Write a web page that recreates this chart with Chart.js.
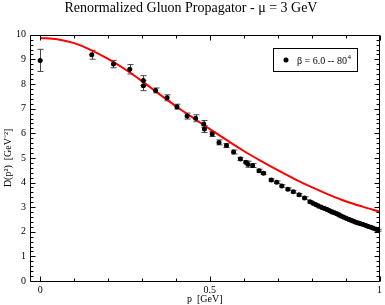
<!DOCTYPE html>
<html>
<head>
<meta charset="utf-8">
<script src="https://cdn.jsdelivr.net/npm/chart.js@4"></script>
<style>
  html, body { margin: 0; padding: 0; background: #fff; }
</style>
</head>
<body>
<canvas id="propChart" width="385" height="305"></canvas>
<script>
// lattice points, beta = 6.0, 80^4
const momenta = [0, 0.152, 0.216, 0.264, 0.304, 0.304, 0.340, 0.374, 0.403, 0.433, 0.458,
  0.482, 0.484, 0.507, 0.527, 0.549, 0.570, 0.590, 0.606, 0.612, 0.626,
  0.645, 0.658, 0.681, 0.697, 0.712, 0.730, 0.746, 0.763, 0.779, 0.795,
  0.805, 0.813, 0.821, 0.830, 0.838, 0.845, 0.853, 0.860, 0.867, 0.874,
  0.881, 0.888, 0.895, 0.903, 0.910, 0.916, 0.923, 0.930, 0.937, 0.944,
  0.952, 0.960, 0.967, 0.975, 0.982, 0.990, 0.997];
const propagator = [8.96, 9.19, 8.81, 8.60, 8.14, 7.93, 7.74, 7.44, 7.08, 6.70, 6.61,
  6.38, 6.17, 5.97, 5.63, 5.50, 5.24, 4.96, 4.82, 4.74, 4.69,
  4.48, 4.38, 4.10, 4.01, 3.86, 3.73, 3.63, 3.50, 3.37, 3.22,
  3.15, 3.10, 3.04, 2.99, 2.94, 2.90, 2.85, 2.80, 2.77, 2.73,
  2.68, 2.63, 2.59, 2.54, 2.50, 2.47, 2.43, 2.39, 2.36, 2.33,
  2.29, 2.25, 2.21, 2.18, 2.14, 2.10, 2.06];
const errors = [0.45, 0.18, 0.15, 0.19, 0.20, 0.20, 0.10, 0.12, 0.10, 0.12, 0.14,
  0.14, 0.14, 0.10, 0.10, 0.08, 0.08, 0.06, 0.06, 0.12, 0.08,
  0.06, 0.05, 0.05, 0.05, 0.05, 0.05, 0.05, 0.05, 0.05, 0.05,
  0.04, 0.04, 0.04, 0.04, 0.04, 0.04, 0.04, 0.04, 0.04, 0.04,
  0.04, 0.04, 0.04, 0.04, 0.04, 0.04, 0.04, 0.04, 0.04, 0.04,
  0.04, 0.04, 0.04, 0.04, 0.04, 0.04, 0.04];

// red fit curve
const fitMomenta = [0, 0.05, 0.1, 0.15, 0.2, 0.25, 0.3, 0.35, 0.4, 0.45, 0.5,
  0.55, 0.6, 0.65, 0.7, 0.75, 0.8, 0.85, 0.9, 0.95, 1.0];
const fitValues = [9.87, 9.82, 9.66, 9.38, 9.02, 8.60, 8.12, 7.60, 7.10, 6.63, 6.17,
  5.72, 5.28, 4.88, 4.50, 4.14, 3.81, 3.51, 3.24, 3.02, 2.82];

const xTickLabels = [0, 0.5, 1];
const yTickLabels = [0, 1, 2, 3, 4, 5, 6, 7, 8, 9, 10];

const serif = 'Liberation Serif';

// error bars, drawn through the scales
const errorBars = {
  id: 'errorBars',
  beforeDatasetsDraw(chart) {
    const { ctx, scales: { x, y } } = chart;
    ctx.save();
    ctx.strokeStyle = '#444';
    ctx.lineWidth = 1;
    momenta.forEach((p, i) => {
      const px = Math.round(x.getPixelForValue(p)) + 0.5;
      const lo = y.getPixelForValue(propagator[i] - errors[i]);
      const hi = y.getPixelForValue(propagator[i] + errors[i]);
      ctx.beginPath();
      ctx.moveTo(px, lo); ctx.lineTo(px, hi);
      ctx.moveTo(px - 3, lo); ctx.lineTo(px + 3, lo);
      ctx.moveTo(px - 3, hi); ctx.lineTo(px + 3, hi);
      ctx.stroke();
    });
    ctx.restore();
  }
};

// box frame with inward ticks on all four sides
const frameTicks = {
  id: 'frameTicks',
  afterDraw(chart) {
    const { ctx, chartArea: a, scales: { x, y } } = chart;
    const L = Math.round(a.left) + 0.5, R = Math.round(a.right) - 0.5;
    const T = Math.round(a.top) + 0.5, B = Math.round(a.bottom) + 0.5;
    ctx.save();
    ctx.strokeStyle = '#000';
    ctx.lineWidth = 1;
    ctx.beginPath();
    ctx.rect(L, T, R - L, B - T);
    for (let k = 0; k <= 10; k++) {
      const px = Math.round(x.getPixelForValue(k / 10)) + 0.5;
      const len = (k % 5 === 0) ? 5 : 3;
      ctx.moveTo(px, B); ctx.lineTo(px, B - len);
      ctx.moveTo(px, T); ctx.lineTo(px, T + len);
    }
    for (let k = 0; k <= 50; k++) {
      const py = Math.round(y.getPixelForValue(k / 5)) + 0.5;
      const len = (k % 5 === 0) ? 5 : 3;
      ctx.moveTo(L, py); ctx.lineTo(L + len, py);
      ctx.moveTo(R, py); ctx.lineTo(R - len, py);
    }
    ctx.stroke();
    ctx.restore();
  }
};

// boxed legend in the top right corner
const boxLegend = {
  id: 'boxLegend',
  afterDraw(chart) {
    const { ctx } = chart;
    ctx.save();
    ctx.strokeStyle = '#000';
    ctx.lineWidth = 1;
    ctx.strokeRect(273.5, 48.5, 84, 23);
    ctx.fillStyle = '#000';
    ctx.beginPath();
    ctx.arc(286, 60, 2.5, 0, Math.PI * 2);
    ctx.fill();
    ctx.font = '10px "' + serif + '"';
    ctx.textBaseline = 'alphabetic';
    const label = '\u03b2 = 6.0 -- 80';
    ctx.fillText(label, 297, 64);
    const w = ctx.measureText(label).width;
    ctx.font = '7px "' + serif + '"';
    ctx.fillText('4', 297 + w + 0.5, 59);
    ctx.restore();
  }
};

const ctx = document.getElementById('propChart').getContext('2d');
new Chart(ctx, {
  type: 'scatter',
  data: {
    datasets: [
      {
        label: 'fit',
        data: fitMomenta.map((p, i) => ({ x: p, y: fitValues[i] })),
        showLine: true,
        borderColor: '#ff0000',
        borderWidth: 2,
        pointRadius: 0,
        cubicInterpolationMode: 'monotone',
        order: 1,
      },
      {
        label: '\u03b2 = 6.0 -- 80^4',
        data: momenta.map((p, i) => ({ x: p, y: propagator[i] })),
        backgroundColor: '#000',
        borderColor: '#000',
        pointRadius: 2.5,
        borderWidth: 0,
        order: 0,
      },
    ],
  },
  options: {
    responsive: false,
    animation: false,
    devicePixelRatio: 1,
    layout: { padding: { top: 0, right: 3, bottom: 0, left: 0 } },
    plugins: {
      legend: { display: false },
      tooltip: { enabled: false },
      title: {
        display: true,
        text: 'Renormalized Gluon Propagator - \u03bc = 3 GeV',
        color: '#000',
        font: { family: serif, size: 14, weight: 'normal' },
        padding: { top: 0, bottom: 18 },
      },
    },
    scales: {
      x: {
        type: 'linear',
        min: -0.03,
        max: 1,
        afterBuildTicks: (s) => { s.ticks = xTickLabels.map((v) => ({ value: v })); },
        afterFit: (s) => { s.height = 24; },
        grid: { display: false, drawTicks: false },
        border: { display: false },
        ticks: {
          color: '#000',
          font: { family: serif, size: 10 },
          padding: 3,
          maxRotation: 0,
          autoSkip: false,
          callback: (v) => String(v),
        },
        title: {
          display: true,
          text: 'p  [GeV]',
          color: '#000',
          font: { family: serif, size: 10 },
          padding: 0,
        },
      },
      y: {
        min: 0,
        max: 10,
        afterBuildTicks: (s) => { s.ticks = yTickLabels.map((v) => ({ value: v })); },
        afterFit: (s) => { s.width = 30; },
        grid: { display: false, drawTicks: false },
        border: { display: false },
        ticks: {
          color: '#000',
          font: { family: serif, size: 10 },
          padding: 4,
          autoSkip: false,
        },
        title: {
          display: true,
          text: 'D(p\u00b2)  [GeV\u207b\u00b2]',
          color: '#000',
          font: { family: serif, size: 10 },
          padding: { top: 2, bottom: 0 },
        },
      },
    },
  },
  plugins: [errorBars, frameTicks, boxLegend],
});
</script>
</body>
</html>
